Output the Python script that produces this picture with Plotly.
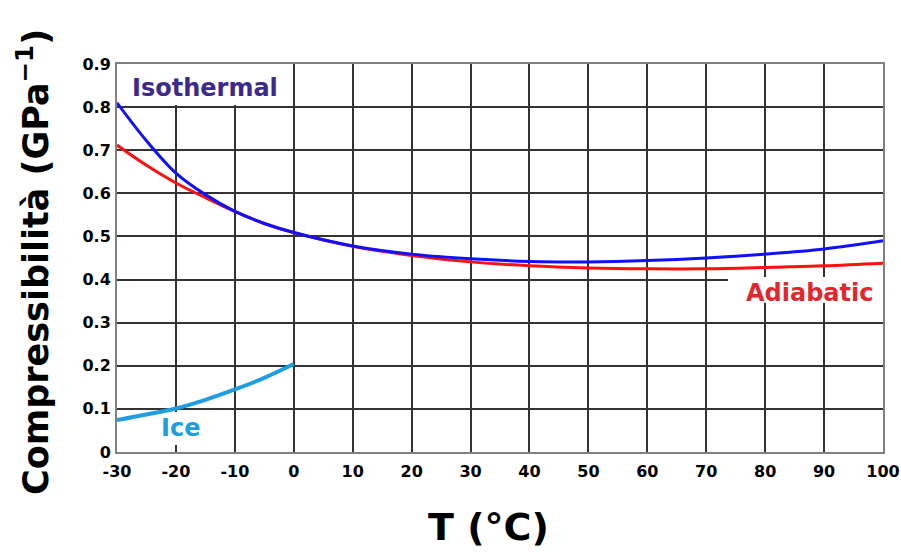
import plotly.graph_objects as go

# Data
T_water = [-30, -25, -20, -15, -10, -5, 0, 10, 20, 30, 40, 50, 60, 70, 80, 90, 100]
isothermal = [0.81, 0.722, 0.647, 0.597, 0.558, 0.530, 0.509, 0.478, 0.459, 0.448, 0.442, 0.441, 0.444, 0.450, 0.459, 0.471, 0.490]
adiabatic = [0.712, 0.665, 0.624, 0.590, 0.558, 0.530, 0.509, 0.477, 0.456, 0.441, 0.432, 0.427, 0.425, 0.425, 0.428, 0.432, 0.438]
T_ice = [-30, -25, -20, -15, -10, -5, 0]
ice = [0.074, 0.087, 0.101, 0.121, 0.145, 0.172, 0.204]
x_ticks = list(range(-30, 101, 10))
x_ticklabels = [str(v) for v in x_ticks]
y_ticks = [0, 0.1, 0.2, 0.3, 0.4, 0.5, 0.6, 0.7, 0.8, 0.9]
y_ticklabels = ["0", "0.1", "0.2", "0.3", "0.4", "0.5", "0.6", "0.7", "0.8", "0.9"]

FONT = "DejaVu Sans"

fig = go.Figure()
fig.add_trace(go.Scatter(x=T_water, y=adiabatic, mode="lines",
                         line=dict(color="#ff1010", width=3, shape="spline"), name="Adiabatic"))
fig.add_trace(go.Scatter(x=T_water, y=isothermal, mode="lines",
                         line=dict(color="#1010ff", width=3, shape="spline"), name="Isothermal"))
fig.add_trace(go.Scatter(x=T_ice, y=ice, mode="lines",
                         line=dict(color="#1e9ee0", width=4, shape="spline"), name="Ice"))

# white boxes behind the labels (cover grid lines)
for x0, x1, y0, y1 in [(-30, -2.3, 0.805, 0.9), (73.7, 100, 0.346, 0.406), (-23.5, -15.1, 0.016, 0.093)]:
    fig.add_shape(type="rect", xref="x", yref="y", x0=x0, x1=x1, y0=y0, y1=y1,
                  fillcolor="white", line=dict(width=0), layer="between")

lab_font = dict(family=FONT, size=24, weight="bold")
fig.add_annotation(x=-15, y=0.845, xref="x", yref="y", text="Isothermal", showarrow=False,
                   font=dict(lab_font, color="#3b2a8c"))
fig.add_annotation(x=87.5, y=0.368, xref="x", yref="y", text="Adiabatic", showarrow=False,
                   font=dict(lab_font, color="#e0282e"))
fig.add_annotation(x=-19.3, y=0.055, xref="x", yref="y", text="Ice", showarrow=False,
                   font=dict(lab_font, color="#1e9ee0"))

# axis titles
fig.add_annotation(x=(488 - 117) / 766, y=-(527 - 452) / 388, xref="paper", yref="paper",
                   text="T (°C)", showarrow=False, xanchor="center", yanchor="middle",
                   font=dict(family=FONT, size=38, weight="bold", color="black"))
fig.add_annotation(x=(33 - 117) / 766, y=(452 - 262) / 388, xref="paper", yref="paper",
                   text="Compressibilità (GPa<sup>−1</sup>)", showarrow=False, textangle=-90,
                   xanchor="center", yanchor="middle",
                   font=dict(family=FONT, size=35, weight="bold", color="black"))

axis_common = dict(showgrid=True, gridcolor="#333333", gridwidth=1.5, zeroline=False,
                   showline=True, linecolor="#808080", linewidth=2, mirror=True,
                   automargin=False, ticks="",
                   tickfont=dict(family=FONT, size=16, weight="bold", color="black"))

fig.update_xaxes(range=[-30, 100], tickmode="array", tickvals=x_ticks, ticktext=x_ticklabels,
                 ticklabelstandoff=4, **axis_common)
fig.update_yaxes(range=[0, 0.9], tickmode="array", tickvals=y_ticks, ticktext=y_ticklabels,
                 ticklabelstandoff=1, **axis_common)

fig.update_layout(width=901, height=552, margin=dict(l=117, r=18, t=64, b=100),
                  plot_bgcolor="white", paper_bgcolor="white", showlegend=False)

fig.write_html("out.html")
